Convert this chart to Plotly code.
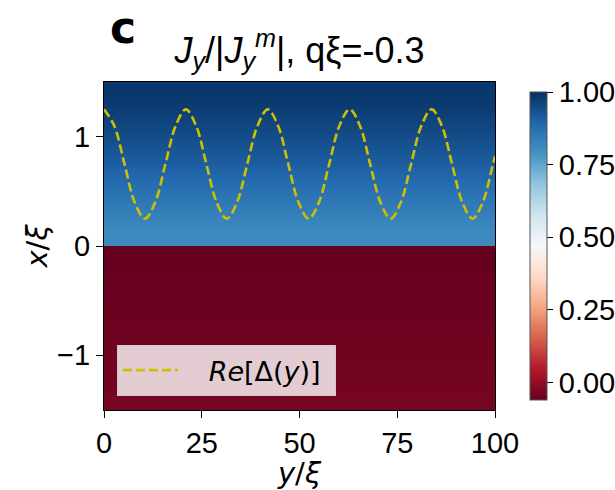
import plotly.graph_objects as go

# Current profile across the junction (x/ξ), uniform along y/ξ
y_edges = [0, 50, 100]
x_edges_upper = [0.0, 0.3, 0.6, 0.9, 1.2, 1.5]
j_upper = [0.81, 0.86, 0.91, 0.95, 0.985]
x_edges_lower = [-1.5, -1.2, -0.9, -0.6, -0.3, 0.0]
j_lower = [-0.04, -0.045, -0.05, -0.055, -0.06]

# Re[Δ(y)] sampled along y/ξ
delta_y = [0.0, 2.62, 5.24, 7.85, 10.47, 13.09, 15.71, 18.33, 20.94, 23.56,
           26.18, 28.80, 31.42, 34.03, 36.65, 39.27, 41.89, 44.51, 47.12, 49.74,
           52.36, 54.98, 57.60, 60.21, 62.83, 65.45, 68.07, 70.69, 73.30, 75.92,
           78.54, 81.16, 83.78, 86.39, 89.01, 91.63, 94.25, 96.87, 99.48, 100.0]
delta_re = [1.25, 1.10, 0.75, 0.40, 0.25, 0.40, 0.75, 1.10, 1.25, 1.10,
            0.75, 0.40, 0.25, 0.40, 0.75, 1.10, 1.25, 1.10, 0.75, 0.40,
            0.25, 0.40, 0.75, 1.10, 1.25, 1.10, 0.75, 0.40, 0.25, 0.40,
            0.75, 1.10, 1.25, 1.10, 0.75, 0.40, 0.25, 0.40, 0.75, 0.82]

cbar_ticks = [0.0, 0.25, 0.5, 0.75, 1.0]
x_ticks = [0, 25, 50, 75, 100]
y_ticks = [-1, 0, 1]

rdbu = ["#67001f", "#b2182b", "#d6604d", "#f4a582", "#fddbc7", "#f7f7f7",
        "#d1e5f0", "#92c5de", "#4393c3", "#2166ac", "#053061"]
colorscale = [[i / 10, c] for i, c in enumerate(rdbu)]

TICK_FONT = dict(family="Liberation Sans, Arial, sans-serif", size=29, color="black")
MATH_FONT = "DejaVu Sans"

fig = go.Figure()
for xe, jv in ((x_edges_lower, j_lower), (x_edges_upper, j_upper)):
    fig.add_trace(go.Heatmap(
        x=y_edges, y=xe, z=[[v, v] for v in jv],
        coloraxis="coloraxis", zsmooth="best", showlegend=False,
        hoverinfo="skip",
    ))

fig.add_trace(go.Scatter(
    x=delta_y, y=delta_re, mode="lines",
    line=dict(color="rgb(205,192,0)", width=2.6, dash="9px,4px", shape="spline"),
    name="&nbsp;&nbsp;&nbsp;<i>Re</i>[Δ(<i>y</i>)]&nbsp;", showlegend=True,
))

fig.update_layout(
    width=615, height=490,
    margin=dict(l=104, r=120, t=82, b=80, autoexpand=False),
    paper_bgcolor="white", plot_bgcolor="white",
    showlegend=True,
    coloraxis=dict(
        colorscale=colorscale, cmin=-0.06, cmax=1.0,
        colorbar=dict(
            x=1.064, xanchor="left", y=0.5, yanchor="middle", len=1.0,
            thickness=17, outlinewidth=1, outlinecolor="#555",
            tickvals=cbar_ticks, tickformat=".2f", ticks="outside",
            ticklen=6, tickcolor="black", tickfont=TICK_FONT,
        ),
    ),
    xaxis=dict(
        range=[0, 100], tickvals=x_ticks, ticks="outside", ticklen=7,
        tickcolor="black", tickfont=TICK_FONT, showgrid=False, zeroline=False,
        showline=True, linecolor="black", linewidth=1, mirror=True,
        title=dict(text="<i>y</i>/<i>ξ</i>",
                   font=dict(family=MATH_FONT, size=29, color="black"), standoff=0),
    ),
    yaxis=dict(
        range=[-1.5, 1.5], tickvals=y_ticks, ticks="outside", ticklen=7,
        tickcolor="black", tickfont=TICK_FONT, showgrid=False, zeroline=False,
        showline=True, linecolor="black", linewidth=1, mirror=True,
        title=dict(text="<i>x</i>/<i>ξ</i>",
                   font=dict(family=MATH_FONT, size=29, color="black"), standoff=0),
    ),
    title=dict(
        text="<i>J<sub>y</sub></i>/|<i>J<sub>y</sub><sup>m</sup></i>|, qξ=-0.3",
        x=0.5, xref="paper", xanchor="center",
        y=1 - 50 / 490, yref="container", yanchor="middle",
        font=dict(family="Liberation Sans, Arial, sans-serif", size=36, color="black"),
    ),
    legend=dict(
        x=0.033, y=0.198, xanchor="left", yanchor="top",
        bgcolor="rgba(255,255,255,0.8)", bordercolor="#cccccc", borderwidth=1,
        font=dict(family=MATH_FONT, size=27, color="black"),
        itemwidth=55,
    ),
    annotations=[dict(
        text="<b>c</b>", xref="paper", yref="paper", x=0.01, y=1.165,
        xanchor="left", yanchor="middle", showarrow=False,
        font=dict(family="DejaVu Sans", size=44, color="black"),
    )],
)

fig.write_html("out.html")
